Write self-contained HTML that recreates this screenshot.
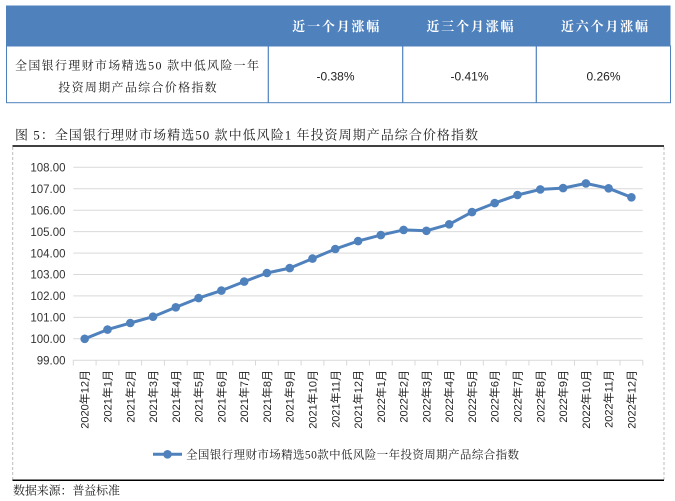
<!DOCTYPE html>
<html><head><meta charset="utf-8"><style>
html,body{margin:0;padding:0;background:#fff;}
svg{display:block;}
.s{font-family:"Liberation Sans","Noto Sans CJK SC",sans-serif;}
.r{font-family:"Liberation Serif","Noto Serif CJK SC",serif;}
</style></head><body>
<svg width="675" height="501" viewBox="0 0 675 501" xmlns="http://www.w3.org/2000/svg">
<rect width="675" height="501" fill="#fff"/>
<!-- table -->
<rect x="6" y="5.5" width="664.5" height="40.5" fill="#4f81bd"/>
<rect x="6.5" y="46" width="664" height="56.7" fill="#fff" stroke="#4f81bd" stroke-width="1"/>
<line x1="268.3" y1="46" x2="268.3" y2="103" stroke="#4f81bd" stroke-width="1.2"/>
<line x1="402.7" y1="46" x2="402.7" y2="103" stroke="#4f81bd" stroke-width="1.2"/>
<line x1="536.3" y1="46" x2="536.3" y2="103" stroke="#4f81bd" stroke-width="1.2"/>
<g class="r" font-size="13" font-weight="bold" fill="#fff">
<text x="292.3" y="31" textLength="87" lengthAdjust="spacing">近一个月涨幅</text>
<text x="426.5" y="31" textLength="87" lengthAdjust="spacing">近三个月涨幅</text>
<text x="561" y="31" textLength="87" lengthAdjust="spacing">近六个月涨幅</text>
</g>
<g class="r" font-size="12" fill="#222">
<text x="15" y="69.5" textLength="244" lengthAdjust="spacing">全国银行理财市场精选50 款中低风险一年</text>
<text x="58.3" y="91.5" textLength="158.4" lengthAdjust="spacing">投资周期产品综合价格指数</text>
</g>
<g class="s" font-size="12" fill="#222" text-anchor="middle">
<text x="335.5" y="80.5">-0.38%</text>
<text x="469.5" y="80.5">-0.41%</text>
<text x="603.5" y="80.5">0.26%</text>
</g>
<!-- title -->
<text class="r" x="15" y="139.5" font-size="13" fill="#222" textLength="463" lengthAdjust="spacing">图 5：全国银行理财市场精选50 款中低风险1 年投资周期产品综合价格指数</text>
<line x1="12.5" y1="146" x2="664" y2="146" stroke="#000" stroke-width="1.5"/>
<line x1="12.7" y1="147" x2="12.7" y2="480" stroke="#bdbdbd" stroke-width="1" stroke-dasharray="3,2"/>
<line x1="664" y1="147" x2="664" y2="480" stroke="#bdbdbd" stroke-width="1" stroke-dasharray="3,2"/>
<line x1="12.5" y1="480.3" x2="664" y2="480.3" stroke="#000" stroke-width="1.5"/>
<!-- gridlines -->
<g stroke="#d9d9d9" stroke-width="1">
<line x1="73.3" y1="167.3" x2="642.7" y2="167.3"/>
<line x1="73.3" y1="188.7" x2="642.7" y2="188.7"/>
<line x1="73.3" y1="210.2" x2="642.7" y2="210.2"/>
<line x1="73.3" y1="231.6" x2="642.7" y2="231.6"/>
<line x1="73.3" y1="253.1" x2="642.7" y2="253.1"/>
<line x1="73.3" y1="274.5" x2="642.7" y2="274.5"/>
<line x1="73.3" y1="295.9" x2="642.7" y2="295.9"/>
<line x1="73.3" y1="317.4" x2="642.7" y2="317.4"/>
<line x1="73.3" y1="338.8" x2="642.7" y2="338.8"/>
<line x1="73.3" y1="360.3" x2="642.7" y2="360.3"/>
</g>
<g stroke="#d9d9d9" stroke-width="1">
<line x1="73.3" y1="360" x2="73.3" y2="365.5"/><line x1="96.1" y1="360" x2="96.1" y2="365.5"/><line x1="118.9" y1="360" x2="118.9" y2="365.5"/><line x1="141.6" y1="360" x2="141.6" y2="365.5"/><line x1="164.4" y1="360" x2="164.4" y2="365.5"/><line x1="187.2" y1="360" x2="187.2" y2="365.5"/><line x1="210.0" y1="360" x2="210.0" y2="365.5"/><line x1="232.8" y1="360" x2="232.8" y2="365.5"/><line x1="255.5" y1="360" x2="255.5" y2="365.5"/><line x1="278.3" y1="360" x2="278.3" y2="365.5"/><line x1="301.1" y1="360" x2="301.1" y2="365.5"/><line x1="323.9" y1="360" x2="323.9" y2="365.5"/><line x1="346.7" y1="360" x2="346.7" y2="365.5"/><line x1="369.4" y1="360" x2="369.4" y2="365.5"/><line x1="392.2" y1="360" x2="392.2" y2="365.5"/><line x1="415.0" y1="360" x2="415.0" y2="365.5"/><line x1="437.8" y1="360" x2="437.8" y2="365.5"/><line x1="460.6" y1="360" x2="460.6" y2="365.5"/><line x1="483.3" y1="360" x2="483.3" y2="365.5"/><line x1="506.1" y1="360" x2="506.1" y2="365.5"/><line x1="528.9" y1="360" x2="528.9" y2="365.5"/><line x1="551.7" y1="360" x2="551.7" y2="365.5"/><line x1="574.5" y1="360" x2="574.5" y2="365.5"/><line x1="597.2" y1="360" x2="597.2" y2="365.5"/><line x1="620.0" y1="360" x2="620.0" y2="365.5"/><line x1="642.8" y1="360" x2="642.8" y2="365.5"/>
</g>
<!-- y labels -->
<g class="s" font-size="11.5" fill="#333" text-anchor="end">
<text x="65.5" y="171.5">108.00</text>
<text x="65.5" y="192.9">107.00</text>
<text x="65.5" y="214.4">106.00</text>
<text x="65.5" y="235.8">105.00</text>
<text x="65.5" y="257.3">104.00</text>
<text x="65.5" y="278.7">103.00</text>
<text x="65.5" y="300.1">102.00</text>
<text x="65.5" y="321.6">101.00</text>
<text x="65.5" y="343.0">100.00</text>
<text x="65.5" y="364.5">99.00</text>
</g>
<!-- x labels -->
<g class="s" font-size="11" fill="#222" text-anchor="end">
<text transform="translate(88.7,370) rotate(-90)">2020年12月</text>
<text transform="translate(111.5,370) rotate(-90)">2021年1月</text>
<text transform="translate(134.3,370) rotate(-90)">2021年2月</text>
<text transform="translate(157.0,370) rotate(-90)">2021年3月</text>
<text transform="translate(179.8,370) rotate(-90)">2021年4月</text>
<text transform="translate(202.6,370) rotate(-90)">2021年5月</text>
<text transform="translate(225.4,370) rotate(-90)">2021年6月</text>
<text transform="translate(248.2,370) rotate(-90)">2021年7月</text>
<text transform="translate(270.9,370) rotate(-90)">2021年8月</text>
<text transform="translate(293.7,370) rotate(-90)">2021年9月</text>
<text transform="translate(316.5,370) rotate(-90)">2021年10月</text>
<text transform="translate(339.3,370) rotate(-90)">2021年11月</text>
<text transform="translate(362.1,370) rotate(-90)">2021年12月</text>
<text transform="translate(384.8,370) rotate(-90)">2022年1月</text>
<text transform="translate(407.6,370) rotate(-90)">2022年2月</text>
<text transform="translate(430.4,370) rotate(-90)">2022年3月</text>
<text transform="translate(453.2,370) rotate(-90)">2022年4月</text>
<text transform="translate(476.0,370) rotate(-90)">2022年5月</text>
<text transform="translate(498.7,370) rotate(-90)">2022年6月</text>
<text transform="translate(521.5,370) rotate(-90)">2022年7月</text>
<text transform="translate(544.3,370) rotate(-90)">2022年8月</text>
<text transform="translate(567.1,370) rotate(-90)">2022年9月</text>
<text transform="translate(589.9,370) rotate(-90)">2022年10月</text>
<text transform="translate(612.6,370) rotate(-90)">2022年11月</text>
<text transform="translate(635.4,370) rotate(-90)">2022年12月</text>
</g>
<!-- series -->
<polyline fill="none" stroke="#4f81bd" stroke-width="3" stroke-linejoin="round" points="84.7,338.8 107.5,329.6 130.3,323.0 153.0,316.7 175.8,307.3 198.6,298.1 221.4,290.6 244.2,281.6 266.9,273.0 289.7,268.1 312.5,258.6 335.3,249.0 358.1,241.1 380.8,235.1 403.6,229.9 426.4,230.8 449.2,224.3 472.0,212.1 494.7,203.1 517.5,195.0 540.3,189.4 563.1,188.1 585.9,183.4 608.6,188.3 631.4,197.3"/>
<g fill="#4f81bd">
<circle cx="84.7" cy="338.8" r="4.3"/><circle cx="107.5" cy="329.6" r="4.3"/><circle cx="130.3" cy="323.0" r="4.3"/><circle cx="153.0" cy="316.7" r="4.3"/><circle cx="175.8" cy="307.3" r="4.3"/><circle cx="198.6" cy="298.1" r="4.3"/><circle cx="221.4" cy="290.6" r="4.3"/><circle cx="244.2" cy="281.6" r="4.3"/><circle cx="266.9" cy="273.0" r="4.3"/><circle cx="289.7" cy="268.1" r="4.3"/><circle cx="312.5" cy="258.6" r="4.3"/><circle cx="335.3" cy="249.0" r="4.3"/><circle cx="358.1" cy="241.1" r="4.3"/><circle cx="380.8" cy="235.1" r="4.3"/><circle cx="403.6" cy="229.9" r="4.3"/><circle cx="426.4" cy="230.8" r="4.3"/><circle cx="449.2" cy="224.3" r="4.3"/><circle cx="472.0" cy="212.1" r="4.3"/><circle cx="494.7" cy="203.1" r="4.3"/><circle cx="517.5" cy="195.0" r="4.3"/><circle cx="540.3" cy="189.4" r="4.3"/><circle cx="563.1" cy="188.1" r="4.3"/><circle cx="585.9" cy="183.4" r="4.3"/><circle cx="608.6" cy="188.3" r="4.3"/><circle cx="631.4" cy="197.3" r="4.3"/>
</g>
<!-- legend -->
<line x1="153" y1="454.3" x2="182" y2="454.3" stroke="#4f81bd" stroke-width="3"/>
<circle cx="167.5" cy="454.3" r="4.3" fill="#4f81bd"/>
<text class="r" x="186" y="458.5" font-size="11.5" fill="#222" textLength="333" lengthAdjust="spacing">全国银行理财市场精选50款中低风险一年投资周期产品综合指数</text>
<!-- source -->
<text class="r" x="13" y="494.5" font-size="12" fill="#222" textLength="107" lengthAdjust="spacing">数据来源：普益标准</text>
</svg>
</body></html>
